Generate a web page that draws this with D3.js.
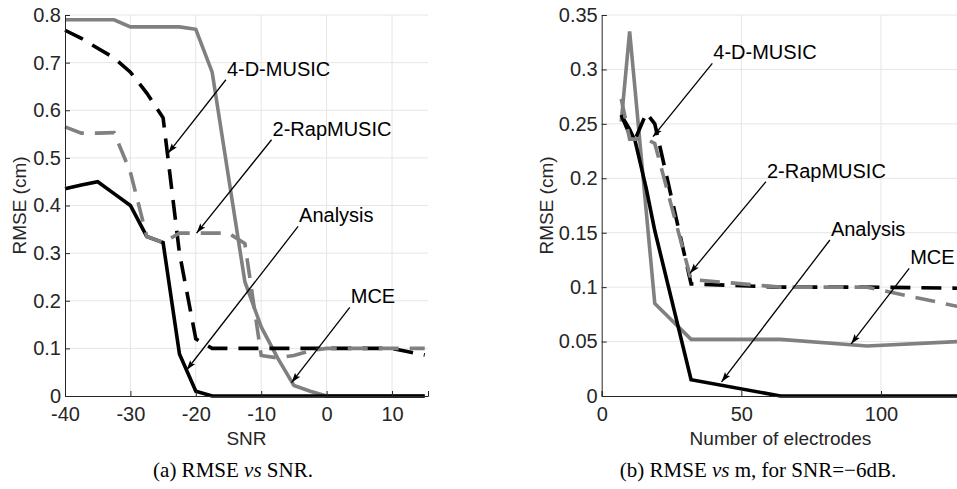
<!DOCTYPE html>
<html>
<head>
<meta charset="utf-8">
<script src="https://cdn.jsdelivr.net/npm/d3@7"></script>
<style>
body { margin: 0; background: #fff; }
svg { display: block; background: #fff; }
text { font-family: "Liberation Sans", Arial, Helvetica, sans-serif; fill: #262626; }
.caption { font-family: "Liberation Serif", "Times New Roman", serif; fill: #000; }
</style>
</head>
<body>
<svg id="chart" width="957" height="489"></svg>
<script>
// ---- panel (a): RMSE vs SNR ----
const snr = [-40, -37.5, -35, -32.5, -30, -27.5, -25, -22.5, -20, -17.5, -15, -12.5, -10, -7.5, -5, -2.5, 0, 2.5, 5, 7.5, 10, 12.5, 15];
const mceSnr      = [0.79, 0.79, 0.79, 0.79, 0.775, 0.775, 0.775, 0.775, 0.77, 0.68, 0.46, 0.24, 0.145, 0.08, 0.022, 0.01, 0, 0, 0, 0, 0, 0, 0];
const analysisSnr = [0.435, 0.443, 0.45, 0.425, 0.40, 0.335, 0.322, 0.088, 0.01, 0, 0, 0, 0, 0, 0, 0, 0, 0, 0, 0, 0, 0, 0];
const music4dSnr  = [0.768, 0.751, 0.73, 0.71, 0.68, 0.636, 0.584, 0.30, 0.12, 0.10, 0.10, 0.10, 0.10, 0.10, 0.10, 0.10, 0.10, 0.10, 0.10, 0.10, 0.10, 0.093, 0.086];
const rapSnr      = [0.565, 0.552, 0.552, 0.553, 0.47, 0.335, 0.322, 0.342, 0.342, 0.342, 0.342, 0.32, 0.085, 0.08, 0.085, 0.095, 0.10, 0.10, 0.10, 0.10, 0.10, 0.10, 0.10];
const snrTicks  = [-40, -30, -20, -10, 0, 10];
const rmseTicksA = [0, 0.1, 0.2, 0.3, 0.4, 0.5, 0.6, 0.7, 0.8];

// ---- panel (b): RMSE vs number of electrodes ----
const electrodes = [7, 10, 12, 16, 19, 32, 64, 95, 128];
const mceM      = [0.252, 0.335, 0.28, 0.168, 0.085, 0.052, 0.052, 0.046, 0.05];
const analysisM = [0.258, 0.245, 0.234, 0.19, 0.152, 0.015, 0, 0, 0];
const music4dM  = [0.258, 0.24, 0.236, 0.26, 0.25, 0.103, 0.10, 0.10, 0.099];
const rapM      = [0.273, 0.236, 0.236, 0.236, 0.232, 0.107, 0.10, 0.10, 0.082];
const mTicks = [0, 50, 100];
const rmseTicksB = [0, 0.05, 0.1, 0.15, 0.2, 0.25, 0.3, 0.35];

const methods = ["MCE", "Analysis", "4-D-MUSIC", "2-RapMUSIC"];

const styles = {
  "MCE":        { color: "#808080", dash: null },
  "Analysis":   { color: "#000000", dash: null },
  "4-D-MUSIC":  { color: "#000000", dash: "20,11" },
  "2-RapMUSIC": { color: "#808080", dash: "20,11" }
};

// plain hyphen like the original figure, not the unicode minus
const tickFmt = d => String(+d.toFixed(2));

const svg = d3.select("#chart");

svg.append("defs").append("marker")
  .attr("id", "arrow")
  .attr("viewBox", "0 0 10 10")
  .attr("refX", 10).attr("refY", 5)
  .attr("markerWidth", 10).attr("markerHeight", 10)
  .attr("markerUnits", "userSpaceOnUse")
  .attr("orient", "auto")
  .append("path")
  .attr("d", "M0,1.8 L10,5 L0,8.2 L2,5 Z")
  .attr("fill", "#000");

function drawPanel(p) {
  const x = d3.scaleLinear().domain(p.xDomain).range(p.xRange);
  const y = d3.scaleLinear().domain(p.yDomain).range([396, 15]);
  const g = svg.append("g");

  // grid
  g.append("g").selectAll("line").data(p.yTicks.filter(d => d > 0)).enter()
    .append("line")
    .attr("x1", p.xRange[0]).attr("x2", p.xRange[1])
    .attr("y1", d => y(d)).attr("y2", d => y(d))
    .attr("stroke", "#e6e6e6").attr("stroke-width", 1);
  g.append("g").selectAll("line").data(p.xTicks.slice(1)).enter()
    .append("line")
    .attr("x1", d => x(d)).attr("x2", d => x(d))
    .attr("y1", y(p.yDomain[0])).attr("y2", y(p.yDomain[1]))
    .attr("stroke", "#e6e6e6").attr("stroke-width", 1);

  // series
  const line = d3.line().x(d => x(d[0])).y(d => y(d[1]));
  methods.forEach(name => {
    const pts = p.xs.map((v, i) => [v, p.series[name][i]]);
    g.append("path")
      .datum(pts)
      .attr("d", line)
      .attr("fill", "none")
      .attr("stroke", styles[name].color)
      .attr("stroke-width", 3.6)
      .attr("stroke-linejoin", "miter")
      .attr("stroke-dasharray", styles[name].dash);
  });

  // axes
  const ax = g.append("g").attr("transform", `translate(0,396)`)
    .call(d3.axisBottom(x).tickValues(p.xTicks).tickSize(-5).tickPadding(11).tickFormat(tickFmt));
  const ay = g.append("g").attr("transform", `translate(${p.xRange[0]},0)`)
    .call(d3.axisLeft(y).tickValues(p.yTicks).tickSize(-5).tickPadding(4).tickFormat(tickFmt));
  [ax, ay].forEach(a => {
    a.select(".domain").attr("stroke", "#262626").attr("stroke-width", 1);
    a.selectAll(".tick line").attr("stroke", "#262626");
    a.selectAll(".tick text").attr("font-size", 20).attr("fill", "#262626")
      .attr("font-family", '"Liberation Sans", Arial, sans-serif');
  });

  // axis titles
  g.append("text")
    .attr("x", (p.xRange[0] + p.xRange[1]) / 2).attr("y", 445)
    .attr("text-anchor", "middle").attr("font-size", 19)
    .text(p.xTitle);
  g.append("text")
    .attr("transform", `translate(${p.yTitleX},205.5) rotate(-90)`)
    .attr("text-anchor", "middle").attr("font-size", 19)
    .text("RMSE (cm)");

  // annotations
  p.notes.forEach(n => {
    const tx = x(n.tail[0]), ty = y(n.tail[1]);
    g.append("line")
      .attr("x1", tx).attr("y1", ty)
      .attr("x2", x(n.tip[0])).attr("y2", y(n.tip[1]))
      .attr("stroke", "#000").attr("stroke-width", 1.3)
      .attr("marker-end", "url(#arrow)");
    g.append("text")
      .attr("x", tx + 1).attr("y", ty - 4)
      .attr("font-size", 20).style("fill", "#000")
      .text(n.label);
  });

  // caption
  const cap = svg.append("text").attr("class", "caption")
    .attr("x", p.capX).attr("y", 477)
    .attr("text-anchor", "middle").attr("font-size", 21);
  p.caption.forEach(part => {
    cap.append("tspan").attr("font-style", part.italic ? "italic" : null).text(part.t);
  });
}

drawPanel({
  xs: snr,
  series: { "MCE": mceSnr, "Analysis": analysisSnr, "4-D-MUSIC": music4dSnr, "2-RapMUSIC": rapSnr },
  xDomain: [-40, 15.5], xRange: [65, 428],
  yDomain: [0, 0.8],
  xTicks: snrTicks, yTicks: rmseTicksA,
  xTitle: "SNR", yTitleX: 26,
  notes: [
    { label: "4-D-MUSIC",  tail: [-15.4, 0.664], tip: [-24.22, 0.51] },
    { label: "2-RapMUSIC", tail: [-8.42, 0.538], tip: [-19.88, 0.342] },
    { label: "Analysis",   tail: [-4.36, 0.356], tip: [-21.41, 0.0546] },
    { label: "MCE",        tail: [3.54, 0.186],  tip: [-5.37, 0.028] }
  ],
  capX: 233,
  caption: [{ t: "(a) RMSE " }, { t: "vs", italic: true }, { t: " SNR." }]
});

drawPanel({
  xs: electrodes,
  series: { "MCE": mceM, "Analysis": analysisM, "4-D-MUSIC": music4dM, "2-RapMUSIC": rapM },
  xDomain: [0, 128], xRange: [601.7, 959.2],
  yDomain: [0, 0.35],
  xTicks: mTicks, yTicks: rmseTicksB,
  xTitle: "Number of electrodes", yTitleX: 553,
  notes: [
    { label: "4-D-MUSIC",  tail: [39.6, 0.3056], tip: [18.37, 0.2382] },
    { label: "2-RapMUSIC", tail: [58.8, 0.1969], tip: [31.6, 0.1127] },
    { label: "Analysis",   tail: [81.7, 0.1433], tip: [42.9, 0.0129] },
    { label: "MCE",        tail: [110.1, 0.1173], tip: [89.3, 0.0478] }
  ],
  capX: 758,
  caption: [{ t: "(b) RMSE " }, { t: "vs", italic: true }, { t: " m, for SNR=\u22126dB." }]
});
</script>
</body>
</html>
